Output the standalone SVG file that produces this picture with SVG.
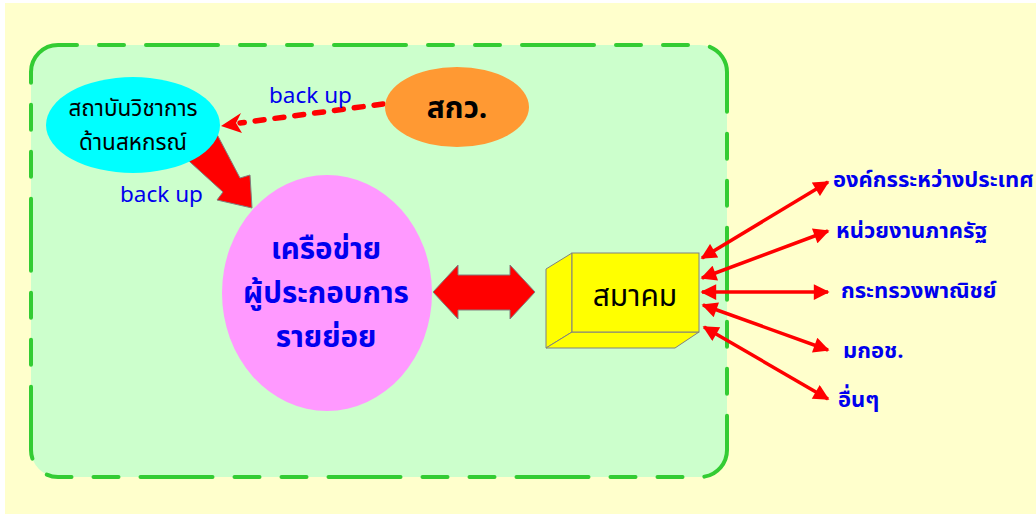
<svg xmlns="http://www.w3.org/2000/svg" width="1036" height="515" viewBox="0 0 1036 515">
<style>
.th{font-family:"Noto Sans Thai","Tahoma","Noto Sans",sans-serif}
.blue{fill:#0000EE}
.lab{font-size:22px;font-weight:bold;fill:#0000EE}
.bu{font-size:22.5px;fill:#0000EE}
.conn{stroke:#FF0000;stroke-width:3.5;fill:none}
</style>
<defs>
<marker id="ah" viewBox="0 0 10 10" refX="9" refY="5" markerWidth="5" markerHeight="4.5" orient="auto-start-reverse" markerUnits="strokeWidth">
<path d="M0,0 L10,5 L0,10 Z" fill="#FF0000"/>
</marker>
</defs>
<rect x="0" y="0" width="1036" height="515" fill="#FFFFFF"/>
<rect x="5" y="3" width="1031" height="511" fill="#FFFFCC"/>
<g id="frame">
<rect x="31" y="45" width="696" height="432" rx="27" ry="27" fill="#CCFFCC"/>
<rect x="31" y="45" width="696" height="432" rx="27" ry="27" fill="none" stroke="#33CC33" stroke-width="4" stroke-linecap="round" stroke-dasharray="72 22 25 22 25 22" stroke-dashoffset="100"/>
</g>
<g id="connectors">
<polygon points="179,152 210,121 240,178 250,175 252,208 217,200 223,192" fill="#FF0000" stroke="#808080" stroke-width="1"/>
<line x1="383" y1="104" x2="240" y2="123" stroke="#FF0000" stroke-width="5.5" stroke-linecap="round" stroke-dasharray="9 11"/>
<polygon points="221,126 241,113 236,123 242,133" fill="#FF0000"/>
<polygon points="433,292 458,265 458,275 510,275 510,265 535,292 510,319 510,310 458,310 458,319" fill="#FF0000" stroke="#808080" stroke-width="1"/>
<line class="conn" x1="702" y1="258" x2="828" y2="182" marker-start="url(#ah)" marker-end="url(#ah)"/>
<line class="conn" x1="702" y1="278" x2="828" y2="231" marker-start="url(#ah)" marker-end="url(#ah)"/>
<line class="conn" x1="702" y1="292" x2="828" y2="292" marker-start="url(#ah)" marker-end="url(#ah)"/>
<line class="conn" x1="703" y1="305" x2="828" y2="350" marker-start="url(#ah)" marker-end="url(#ah)"/>
<line class="conn" x1="704" y1="327" x2="828" y2="399" marker-start="url(#ah)" marker-end="url(#ah)"/>
</g>
<g id="institute">
<ellipse cx="133" cy="125" rx="87" ry="48" fill="#00FFFF"/>
<text class="th" x="133" y="116" font-size="22.5" text-anchor="middle" fill="#000000">สถาบันวิชาการ</text>
<text class="th" x="133" y="150" font-size="22.5" text-anchor="middle" fill="#000000">ด้านสหกรณ์</text>
</g>
<g id="trf">
<ellipse cx="457" cy="107" rx="72" ry="40" fill="#FF9933"/>
<text class="th" x="457" y="118" font-size="30" font-weight="bold" text-anchor="middle" fill="#000000">สกว.</text>
</g>
<g id="network">
<ellipse cx="327" cy="293" rx="105" ry="118" fill="#FF99FF"/>
<text class="th blue" x="326" y="259" font-size="29.5" font-weight="bold" text-anchor="middle">เครือข่าย</text>
<text class="th blue" x="326" y="303" font-size="29.5" font-weight="bold" text-anchor="middle">ผู้ประกอบการ</text>
<text class="th blue" x="326" y="347" font-size="29.5" font-weight="bold" text-anchor="middle">รายย่อย</text>
</g>
<g id="association">
<polygon points="546,269 572,253 572,332 546,348" fill="#FFFF00" stroke="#808080" stroke-width="1"/>
<polygon points="546,348 572,332 699,332 675,348" fill="#FFFF00" stroke="#808080" stroke-width="1"/>
<rect x="572" y="253" width="127" height="79" fill="#FFFF00" stroke="#808080" stroke-width="1"/>
<text class="th" x="635" y="306" font-size="30" text-anchor="middle" fill="#000000">สมาคม</text>
</g>
<g id="labels">
<text class="th bu" x="269" y="103">back up</text>
<text class="th bu" x="120" y="202">back up</text>
<text class="th lab" x="833" y="187">องค์กรระหว่างประเทศ</text>
<text class="th lab" x="836" y="238">หน่วยงานภาครัฐ</text>
<text class="th lab" x="841" y="298">กระทรวงพาณิชย์</text>
<text class="th lab" x="843" y="358">มกอช.</text>
<text class="th lab" x="838" y="407">อื่นๆ</text>
</g>
</svg>
